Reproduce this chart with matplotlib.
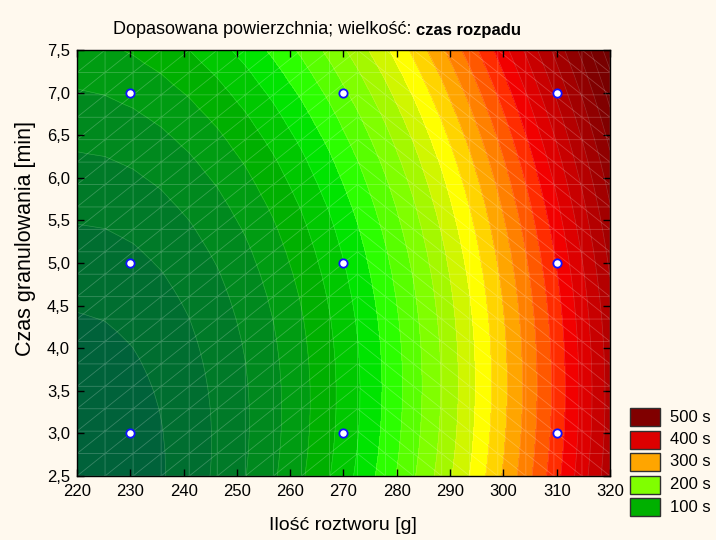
import numpy as np
import matplotlib
matplotlib.use("Agg")
import matplotlib.pyplot as plt
import matplotlib.tri as mtri
from matplotlib.patches import Rectangle
from matplotlib.ticker import FuncFormatter, MultipleLocator

plt.rcParams['font.family'] = ['Liberation Sans', 'DejaVu Sans']

# design points of the experiment
ilosc = [230, 270, 310]      # ilosc roztworu [g]
czas_gran = [3, 5, 7]        # czas granulowania [min]
# disintegration time at the design points (rows = czas_gran, cols = ilosc)
czas_rozpadu = [[10, 127, 369],
                [35, 139, 381],
                [85, 196, 444]]

# contour levels (step 20 s) and band colours
poziom_od = [0, 20, 40, 60, 80, 100, 120, 140, 160, 180, 200, 220, 240, 260,
             280, 300, 320, 340, 360, 380, 400, 420, 440, 460, 480, 500, 520, 540]
kolory = ['#00623A', '#006E30', '#007A28', '#00891E', '#009C12', '#00B000',
          '#00C800', '#00E400', '#2CFF00', '#58FF00', '#80FF00', '#A4F800',
          '#D0F600', '#FFFF00', '#FFD400', '#FFA500', '#FF8000', '#FF5800',
          '#FF2C00', '#F20000', '#DD0000', '#C80000', '#B40000', '#A20000',
          '#900000', '#800000', '#780000', '#700000']

legenda_wart = ['500 s', '400 s', '300 s', '200 s', '100 s']
legenda_kol = ['#800000', '#DD0000', '#FFA500', '#80FF00', '#00B000']

tlo = '#FFF9EE'

# fit the full (bi)quadratic surface through the design points
X, T = np.meshgrid(ilosc, czas_gran)
Z = np.array(czas_rozpadu, dtype=float)
def baza(x, t):
    u = (np.asarray(x) - 270.0) / 40.0
    v = (np.asarray(t) - 5.0) / 2.0
    return np.column_stack([u.ravel()**i * v.ravel()**j for i in range(3) for j in range(3)])
wsp = np.linalg.lstsq(baza(X, T), Z.ravel(), rcond=None)[0]

# triangulated mesh like the original program draws
n = 20
xg = np.linspace(220, 320, n)
tg = np.linspace(2.5, 7.5, n)
XG, TG = np.meshgrid(xg, tg)
zg = baza(XG, TG) @ wsp
tris = []
for j in range(n - 1):
    for i in range(n - 1):
        p00 = j * n + i
        p10 = p00 + 1
        p01 = p00 + n
        p11 = p01 + 1
        if xg[i] + 2.6 < 270:
            tris += [[p00, p10, p11], [p00, p11, p01]]
        else:
            tris += [[p00, p10, p01], [p10, p11, p01]]
siatka = mtri.Triangulation(XG.ravel(), TG.ravel(), np.array(tris))

fig = plt.figure(figsize=(7.16, 5.40), dpi=100, facecolor=tlo)
ax = fig.add_axes([77/716, 1-476/540, 533/716, 426/540])

granice = [min(zg.min(), 0) - 1] + poziom_od[1:] + [max(zg.max(), 560) + 1]
ax.tricontourf(siatka, zg, levels=granice, colors=kolory)
ax.tricontour(siatka, zg, levels=poziom_od[1:], colors='white', alpha=0.18, linewidths=0.5)
ax.triplot(siatka, color='white', alpha=0.22, lw=0.6)

ax.plot(X.ravel(), T.ravel(), 'o', ms=6, mfc='white', mec='#1010FF', mew=1.3, zorder=5)

ax.set_xlim(220, 320)
ax.set_ylim(2.5, 7.5)
ax.xaxis.set_major_locator(MultipleLocator(10))
ax.yaxis.set_major_locator(MultipleLocator(0.5))
ax.yaxis.set_major_formatter(FuncFormatter(lambda v, p: ('%.1f' % v).replace('.', ',')))
ax.tick_params(direction='in', top=True, right=True, length=5, width=1,
               labelsize=12, colors='black', pad=5)
ax.tick_params(axis='x', pad=6)
for s in ax.spines.values():
    s.set_linewidth(1)

# axis titles
fig.text(343/716, 1-526/540, 'Ilość roztworu [g]', ha='center', va='center', fontsize=14)
fig.text(26/716, 1-238/540, 'Czas granulowania [min]', ha='center', va='center',
         rotation=90, fontsize=15.5)

# title: normal part + bold part
t1 = fig.text(113/716, 1-30/540, 'Dopasowana powierzchnia; wielkość: ', ha='left',
              va='center', fontsize=13)
fig.canvas.draw()
bb = t1.get_window_extent(fig.canvas.get_renderer())
fig.text(bb.x1/fig.bbox.width, 1-30/540, 'czas rozpadu', ha='left', va='center',
         fontsize=12, fontweight='bold')

# legend
for k, (lab, kol) in enumerate(zip(legenda_wart, legenda_kol)):
    yk = 408 + k * 22.5
    fig.patches.append(Rectangle((630/716, 1-(yk+18)/540), 30/716, 18/540,
                                 transform=fig.transFigure, facecolor=kol,
                                 edgecolor='#303030', lw=1))
    fig.text(670/716, 1-(yk+9)/540, lab, ha='left', va='center', fontsize=12)

fig.savefig('out.png', dpi=100, facecolor=tlo)
